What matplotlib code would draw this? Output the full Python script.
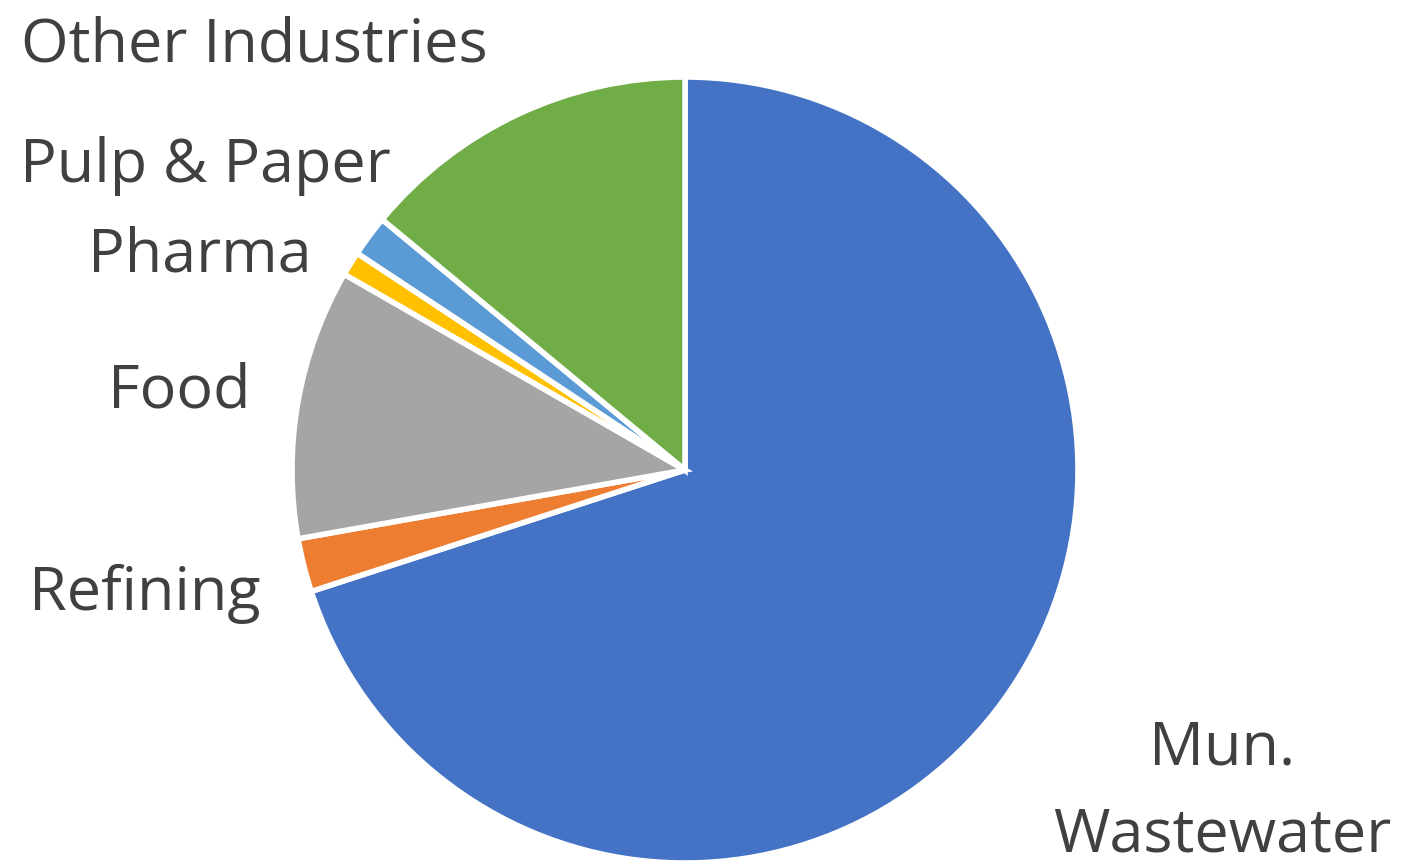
"""Pie chart: wastewater market share by segment."""

import matplotlib.pyplot as plt

# clockwise from 12 o'clock
segments = ["Mun.\nWastewater", "Refining", "Food", "Pharma", "Pulp & Paper", "Other Industries"]
shares = [70.0, 2.2, 11.1, 1.0, 1.7, 14.0]
colors = ["#4472C4", "#ED7D31", "#A5A5A5", "#FFC000", "#5B9BD5", "#70AD47"]

W, H = 1409, 866
CX, CY, R = 685, 866 - 470, 393

# label anchors in pixel coords (x centre, y baseline measured from top)
label_pos = {
    "Mun.\nWastewater": (1222, 852),
    "Refining": (145, 610),
    "Food": (179, 408),
    "Pharma": (200, 272),
    "Pulp & Paper": (205, 182),
    "Other Industries": (254, 62),
}


def main():
    plt.rcParams["font.family"] = ["Open Sans", "DejaVu Sans"]
    fig = plt.figure(figsize=(W / 100, H / 100), dpi=100)
    ax = fig.add_axes([0, 0, 1, 1])

    ax.pie(shares, colors=colors, startangle=90, counterclock=False,
           center=(CX, CY), radius=R,
           wedgeprops=dict(edgecolor="white", linewidth=4))
    ax.set_xlim(0, W)
    ax.set_ylim(0, H)
    ax.set_aspect("auto")
    ax.axis("off")

    for name in segments:
        x, y = label_pos[name]
        ax.text(x, H - y, name, ha="center", va="baseline", fontsize=44,
                color="#404040", multialignment="center", linespacing=1.6)

    fig.savefig("out.png", dpi=100, facecolor="white")


if __name__ == "__main__":
    main()
